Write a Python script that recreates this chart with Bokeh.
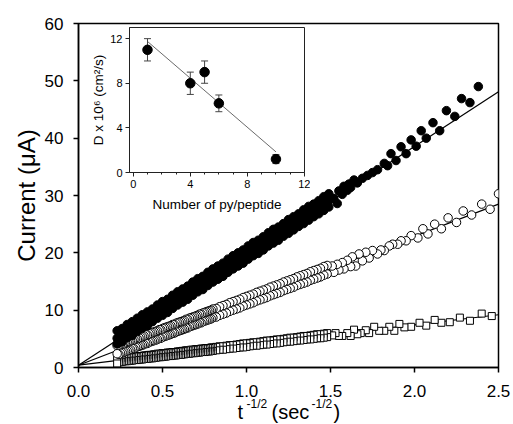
from bokeh.plotting import figure
from bokeh.models import Range1d, FixedTicker, Whisker, TeeHead, ColumnDataSource, NumeralTickFormatter, Label
from bokeh.embed import file_html
from bokeh.resources import INLINE

FONT = "Liberation Sans"

# ---------------- main chart data ----------------
x_ticks = [0.0, 0.5, 1.0, 1.5, 2.0, 2.5]
y_ticks = [0, 10, 20, 30, 40, 50, 60]

# filled circles: dense part, three overlapping tracks
x_dense = [0.23, 0.26, 0.29, 0.32, 0.35, 0.38, 0.41, 0.44, 0.47, 0.50,
           0.53, 0.56, 0.59, 0.62, 0.65, 0.68, 0.71, 0.74, 0.77, 0.80,
           0.83, 0.86, 0.89, 0.92, 0.95, 0.98, 1.01, 1.04, 1.07, 1.10,
           1.13, 1.16, 1.19, 1.22, 1.25, 1.28, 1.31, 1.34, 1.37, 1.40,
           1.43, 1.46, 1.49]
filled_up = [6.4, 6.8, 7.5, 8.0, 8.6, 9.2, 9.7, 10.2, 10.9, 11.5,
             11.9, 12.6, 13.2, 13.7, 14.2, 14.9, 15.5, 15.9, 16.6, 17.2,
             17.7, 18.2, 18.9, 19.5, 20.0, 20.5, 21.2, 21.8, 22.2, 22.8,
             23.5, 24.1, 24.5, 25.1, 25.8, 26.3, 26.8, 27.5, 28.1, 28.5,
             29.1, 29.8, 30.3]
filled_mid = [5.1, 5.6, 6.3, 6.7, 7.4, 8.0, 8.4, 9.2, 9.7, 10.2,
              10.9, 11.3, 12.0, 12.6, 13.0, 13.7, 14.3, 14.7, 15.4, 16.0,
              16.5, 17.0, 17.7, 18.3, 18.8, 19.4, 20.0, 20.5, 21.1, 21.7,
              22.2, 22.8, 23.4, 24.0, 24.5, 25.1, 25.7, 26.3, 26.8, 27.4,
              28.0, 28.5, 29.1]
filled_lo = [4.1, 4.5, 5.2, 5.6, 6.3, 6.9, 7.3, 8.0, 8.6, 9.1,
             9.6, 10.3, 10.9, 11.4, 11.9, 12.6, 13.2, 13.6, 14.3, 14.9,
             15.4, 15.9, 16.6, 17.2, 17.7, 18.2, 18.9, 19.5, 19.9, 20.5,
             21.2, 21.7, 22.2, 22.9, 23.4, 24.0, 24.6, 25.1, 25.7, 26.3,
             26.8, 27.4, 28.0]
filled_x_hi = [1.52, 1.54, 1.55, 1.57, 1.58, 1.60, 1.61, 1.62, 1.64, 1.66,
               1.69, 1.72, 1.75, 1.78, 1.82, 1.84, 1.86, 1.89, 1.92, 1.95,
               1.98, 2.01, 2.04, 2.07, 2.11, 2.15, 2.19, 2.24, 2.28, 2.33,
               2.38]
filled_y_hi = [29.5, 28.6, 30.8, 30.2, 31.6, 30.9, 32.0, 31.4, 32.7, 32.2,
               33.0, 33.5, 34.0, 34.5, 35.6, 35.2, 37.3, 36.1, 38.5, 37.3,
               39.7, 38.6, 41.3, 40.0, 42.7, 41.3, 44.8, 43.8, 46.9, 46.2,
               49.0]

# open circles and squares: finer sampling of the dense part
x_fine = [0.23, 0.24, 0.25, 0.26, 0.27, 0.28, 0.29, 0.30, 0.31, 0.32,
          0.33, 0.34, 0.35, 0.36, 0.37, 0.38, 0.39, 0.40, 0.41, 0.42,
          0.43, 0.44, 0.45, 0.46, 0.47, 0.48, 0.49, 0.50, 0.51, 0.52,
          0.53, 0.54, 0.55, 0.56, 0.57, 0.58, 0.59, 0.60, 0.61, 0.62,
          0.63, 0.64, 0.65, 0.66, 0.67, 0.68, 0.69, 0.70, 0.71, 0.72,
          0.73, 0.74, 0.75, 0.76, 0.77, 0.78, 0.79, 0.80,
          0.82, 0.84, 0.86, 0.88, 0.90, 0.92, 0.94, 0.96, 0.98, 1.00,
          1.02, 1.04, 1.06, 1.08, 1.10, 1.12, 1.14, 1.16, 1.18, 1.20,
          1.22, 1.24, 1.26, 1.28, 1.30, 1.32, 1.34, 1.36, 1.38, 1.40,
          1.42, 1.44, 1.46, 1.48]

open_up = [3.8, 3.9, 4.0, 4.0, 4.2, 4.3, 4.4, 4.5, 4.7, 4.7,
           4.9, 5.0, 5.0, 5.2, 5.3, 5.4, 5.5, 5.7, 5.7, 5.9,
           6.0, 6.1, 6.2, 6.3, 6.4, 6.6, 6.6, 6.8, 6.9, 7.0,
           7.1, 7.2, 7.3, 7.5, 7.5, 7.7, 7.8, 7.9, 8.0, 8.1,
           8.2, 8.4, 8.4, 8.6, 8.7, 8.8, 8.9, 9.0, 9.1, 9.3,
           9.3, 9.5, 9.6, 9.7, 9.8, 9.9, 10.0, 10.2,
           10.3, 10.6, 10.8, 11.0, 11.3, 11.5, 11.7, 11.9, 12.2, 12.4,
           12.6, 12.8, 13.1, 13.3, 13.5, 13.7, 14.0, 14.2, 14.4, 14.6,
           14.9, 15.1, 15.3, 15.5, 15.8, 16.0, 16.2, 16.4, 16.7, 16.9,
           17.1, 17.3, 17.6, 17.8]
open_lo = [2.4, 2.3, 2.5, 2.6, 2.7, 2.8, 2.9, 3.0, 3.1, 3.3,
           3.3, 3.5, 3.6, 3.7, 3.8, 3.9, 4.0, 4.2, 4.2, 4.4,
           4.5, 4.6, 4.7, 4.8, 4.9, 5.1, 5.1, 5.3, 5.4, 5.5,
           5.6, 5.7, 5.8, 6.0, 6.0, 6.2, 6.3, 6.4, 6.5, 6.6,
           6.7, 6.9, 6.9, 7.1, 7.2, 7.3, 7.4, 7.5, 7.6, 7.8,
           7.8, 8.0, 8.1, 8.2, 8.3, 8.4, 8.5, 8.7,
           8.8, 9.1, 9.3, 9.5, 9.8, 10.0, 10.2, 10.4, 10.7, 10.9,
           11.1, 11.3, 11.6, 11.8, 12.0, 12.2, 12.5, 12.7, 12.9, 13.1,
           13.4, 13.6, 13.8, 14.0, 14.3, 14.5, 14.7, 14.9, 15.2, 15.4,
           15.6, 15.8, 16.1, 16.3]
open_x_hi = [1.51, 1.52, 1.54, 1.55, 1.57, 1.58, 1.60, 1.62, 1.63, 1.65,
             1.67, 1.69, 1.71, 1.73, 1.75, 1.78, 1.80, 1.82, 1.85, 1.87,
             1.90, 1.92, 1.95, 1.98, 2.02, 2.05, 2.08, 2.12, 2.16, 2.20,
             2.25, 2.29, 2.34, 2.40, 2.45, 2.50]
open_y_hi = [17.7, 16.6, 18.0, 17.0, 18.3, 17.2, 18.7, 17.6, 19.3, 17.7,
             19.8, 18.6, 20.1, 19.1, 20.4, 19.8, 20.5, 20.4, 21.2, 21.5,
             21.5, 22.1, 22.1, 23.0, 22.6, 24.2, 23.3, 25.0, 24.2, 26.1,
             25.3, 27.3, 26.6, 28.5, 27.6, 30.3]

square_up = [1.7, 1.5, 1.6, 1.6, 1.7, 1.7, 1.7, 1.8, 1.8, 1.8,
             1.9, 1.9, 1.9, 2.0, 2.0, 2.0, 2.1, 2.1, 2.1, 2.2,
             2.2, 2.2, 2.3, 2.3, 2.4, 2.4, 2.4, 2.5, 2.5, 2.5,
             2.6, 2.6, 2.6, 2.7, 2.7, 2.7, 2.8, 2.8, 2.8, 2.9,
             2.9, 3.0, 3.0, 3.0, 3.1, 3.1, 3.1, 3.2, 3.2, 3.2,
             3.3, 3.3, 3.3, 3.4, 3.4, 3.4, 3.5, 3.5,
             3.6, 3.7, 3.7, 3.8, 3.9, 3.9, 4.0, 4.1, 4.2, 4.2,
             4.3, 4.4, 4.4, 4.5, 4.6, 4.7, 4.7, 4.8, 4.9, 4.9,
             5.0, 5.1, 5.2, 5.2, 5.3, 5.4, 5.5, 5.5, 5.6, 5.7,
             5.8, 5.8, 5.9, 6.0]
square_lo = [0.7, 0.9, 1.0, 1.0, 1.1, 1.1, 1.1, 1.2, 1.2, 1.2,
             1.3, 1.3, 1.3, 1.4, 1.4, 1.4, 1.5, 1.5, 1.5, 1.6,
             1.6, 1.6, 1.7, 1.7, 1.8, 1.8, 1.8, 1.9, 1.9, 1.9,
             2.0, 2.0, 2.0, 2.1, 2.1, 2.1, 2.2, 2.2, 2.2, 2.3,
             2.3, 2.4, 2.4, 2.4, 2.5, 2.5, 2.5, 2.6, 2.6, 2.6,
             2.7, 2.7, 2.7, 2.8, 2.8, 2.8, 2.9, 2.9,
             3.0, 3.1, 3.1, 3.2, 3.3, 3.3, 3.4, 3.5, 3.5, 3.6,
             3.7, 3.8, 3.8, 3.9, 4.0, 4.0, 4.1, 4.2, 4.2, 4.3,
             4.4, 4.5, 4.5, 4.6, 4.7, 4.7, 4.8, 4.9, 4.9, 5.0,
             5.1, 5.1, 5.2, 5.3]
square_x_hi = [1.51, 1.53, 1.55, 1.57, 1.60, 1.62, 1.64, 1.66, 1.68, 1.71,
               1.73, 1.76, 1.79, 1.82, 1.85, 1.88, 1.91, 1.94, 1.98, 2.03,
               2.07, 2.12, 2.16, 2.21, 2.27, 2.33, 2.40, 2.46]
square_y_hi = [5.6, 6.0, 5.5, 5.5, 6.0, 5.5, 6.6, 5.8, 6.0, 6.5,
               6.0, 7.1, 6.4, 6.4, 7.1, 6.4, 7.6, 7.0, 7.1, 7.8,
               7.3, 8.3, 7.8, 7.9, 8.7, 8.15, 9.4, 8.97]

# linear fits (values at t^-1/2 = 0 and 2.5)
fit_x = [0.0, 2.5]
fit_filled = [0.4, 48.1]
fit_open = [0.4, 28.5]
fit_square = [0.4, 9.2]

# ---------------- inset data ----------------
py_count = [1, 4, 5, 6, 10]
D_val = [11.0, 8.0, 9.0, 6.2, 1.2]
D_err = [1.0, 1.0, 1.0, 0.75, 0.4]
inset_fit_x = [1.0, 10.0]
inset_fit_y = [11.75, 1.85]
inset_x_ticks = [0, 4, 8, 12]
inset_x_minor = [1, 2, 3, 5, 6, 7, 9, 10, 11]
inset_y_ticks = [0, 4, 8, 12]


def time_order(xs_hi, ys_hi, xs, *tracks):
    """Order points as recorded: large t^-1/2 first, tracks interleaved."""
    ox = list(reversed(xs_hi))
    oy = list(reversed(ys_hi))
    for i in reversed(range(len(xs))):
        for tr in tracks:
            ox.append(xs[i])
            oy.append(tr[i])
    return ox, oy


# ---------------- main figure ----------------
p = figure(width=513, height=424, x_range=Range1d(0, 2.5), y_range=Range1d(0, 60),
           output_backend="svg", toolbar_location=None,
           min_border_left=78, min_border_right=15, min_border_top=23, min_border_bottom=57)
p.xgrid.visible = False
p.ygrid.visible = False
p.background_fill_color = "white"
p.border_fill_color = "white"
p.outline_line_color = "black"
p.outline_line_width = 1.5
p.outline_line_alpha = 1.0

for ax in (p.xaxis[0], p.yaxis[0]):
    ax.axis_line_width = 1.5
    ax.axis_line_color = "black"
    ax.major_tick_line_width = 1.5
    ax.major_tick_line_color = "black"
    ax.major_tick_out = 5
    ax.major_tick_in = 0
    ax.minor_tick_out = 0
    ax.minor_tick_in = 0
    ax.major_label_text_font = FONT
    ax.major_label_text_font_size = "17px"
    ax.major_label_text_color = "black"
    ax.axis_label_text_font = FONT
    ax.axis_label_text_font_style = "normal"
    ax.axis_label_text_color = "black"

p.xaxis[0].ticker = FixedTicker(ticks=x_ticks, minor_ticks=[])
p.yaxis[0].ticker = FixedTicker(ticks=y_ticks, minor_ticks=[])
p.xaxis[0].formatter = NumeralTickFormatter(format="0.0")
p.xaxis[0].major_label_standoff = 12
p.yaxis[0].major_label_standoff = 10
p.yaxis[0].axis_label = "Current (\u03bcA)"
p.yaxis[0].axis_label_text_font_size = "24px"
p.yaxis[0].axis_label_standoff = 2

for fy in (fit_filled, fit_open, fit_square):
    p.line(fit_x, fy, line_color="black", line_width=1.2)

sq_x, sq_y = time_order(square_x_hi, square_y_hi, x_fine, square_up, square_lo)
p.scatter(sq_x, sq_y, marker="square", size=7, fill_color="white",
          line_color="black", line_width=1)

op_x, op_y = time_order(open_x_hi, open_y_hi, x_fine, open_up, open_lo)
p.scatter(op_x, op_y, marker="circle", size=8.5, fill_color="white",
          line_color="black", line_width=1)

fl_x, fl_y = time_order(filled_x_hi, filled_y_hi, x_dense, filled_up, filled_mid, filled_lo)
p.scatter(fl_x, fl_y, marker="circle", size=8.5, fill_color="black",
          line_color="black")

# ---------------- x-axis title (superscripts) as a small overlay figure ----------------
tfig = figure(width=120, height=46, x_range=Range1d(0, 120), y_range=Range1d(0, 46),
              x_axis_type=None, y_axis_type=None, output_backend="svg",
              toolbar_location=None, min_border=0,
              styles={"position": "absolute", "left": "237px", "top": "378px", "z-index": "6"})
tfig.outline_line_color = None
tfig.background_fill_color = None
tfig.border_fill_color = None
title_parts = [("t", 0, 13, "20px"), ("-1/2", 9, 21, "12px"),
               ("(sec", 34, 13, "20px"), ("-1/2", 74, 21, "12px"),
               (")", 96, 13, "20px")]
for txt, tx, ty, fs in title_parts:
    tfig.add_layout(Label(x=tx, y=ty, x_units="screen", y_units="screen", text=txt,
                          text_font=FONT, text_font_size=fs,
                          text_color="black", text_align="left",
                          text_baseline="alphabetic"))

# ---------------- inset figure ----------------
ins = figure(width=222, height=200, x_range=Range1d(-0.26, 12), y_range=Range1d(0, 13),
             output_backend="svg", toolbar_location=None,
             min_border_left=40, min_border_right=6, min_border_top=7, min_border_bottom=48,
             styles={"position": "absolute", "left": "88px", "top": "20px", "z-index": "5"})
ins.xgrid.visible = False
ins.ygrid.visible = False
ins.background_fill_color = None
ins.border_fill_color = None
ins.outline_line_color = "#222222"
ins.outline_line_width = 1

for ax in (ins.xaxis[0], ins.yaxis[0]):
    ax.axis_line_color = "#222222"
    ax.axis_line_width = 1
    ax.major_tick_line_color = "#222222"
    ax.minor_tick_line_color = "#222222"
    ax.major_tick_out = 4
    ax.major_tick_in = 0
    ax.minor_tick_out = 2
    ax.minor_tick_in = 0
    ax.major_label_text_font = FONT
    ax.major_label_text_font_size = "11px"
    ax.major_label_text_color = "black"
    ax.axis_label_text_font = FONT
    ax.axis_label_text_font_style = "normal"
    ax.axis_label_text_color = "black"
    ax.axis_label_text_font_size = "13.5px"

ins.xaxis[0].ticker = FixedTicker(ticks=inset_x_ticks, minor_ticks=inset_x_minor)
ins.yaxis[0].ticker = FixedTicker(ticks=inset_y_ticks, minor_ticks=[])
ins.xaxis[0].major_label_standoff = 3
ins.yaxis[0].major_label_standoff = 3
ins.xaxis[0].axis_label = "Number of py/peptide"
ins.xaxis[0].axis_label_standoff = 6
ins.yaxis[0].axis_label = "D x 10\u2076 (cm\u00b2/s)"
ins.yaxis[0].axis_label_standoff = 1

ins.line(inset_fit_x, inset_fit_y, line_color="#444444", line_width=0.8)

err_src = ColumnDataSource(data=dict(
    x=py_count,
    upper=[v + e for v, e in zip(D_val, D_err)],
    lower=[v - e for v, e in zip(D_val, D_err)],
))
ins.add_layout(Whisker(source=err_src, base="x", upper="upper", lower="lower",
                       line_color="#444444", line_width=1,
                       upper_head=TeeHead(size=7, line_color="#444444", line_width=1),
                       lower_head=TeeHead(size=7, line_color="#444444", line_width=1)))
ins.scatter(py_count, D_val, marker="circle", size=9.5, fill_color="black", line_color="black")

open("out.html", "w").write(file_html([p, ins, tfig], INLINE))
